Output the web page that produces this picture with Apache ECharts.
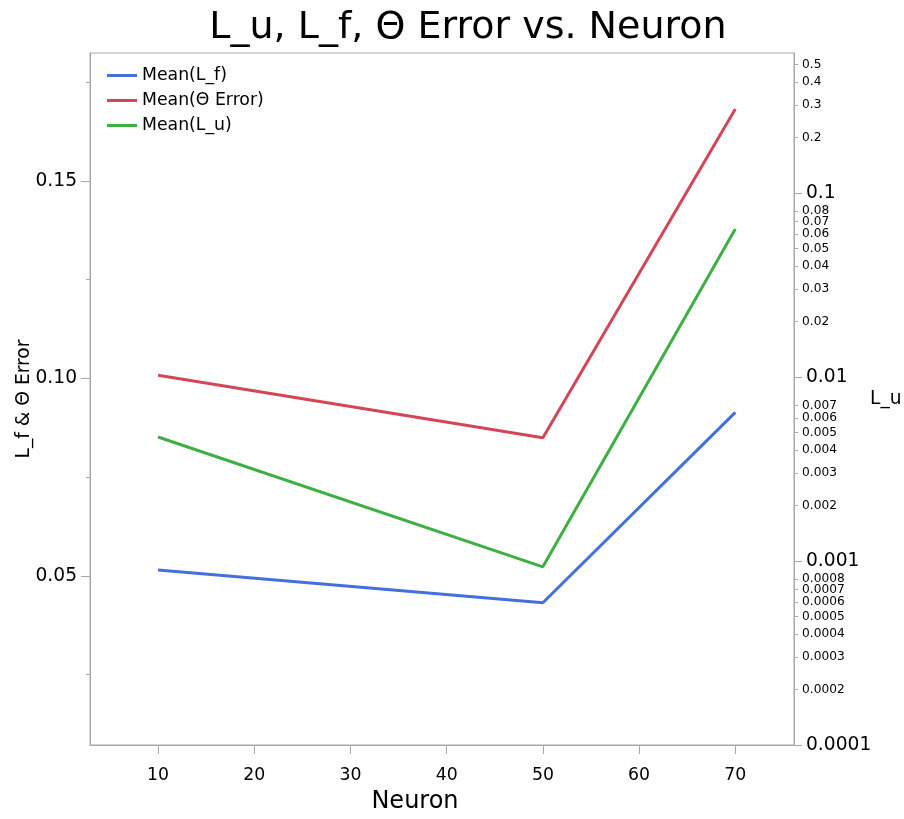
<!DOCTYPE html>
<html><head><meta charset="utf-8">
<script src="https://cdn.jsdelivr.net/npm/echarts@6/dist/echarts.min.js"></script>
<style>html,body{margin:0;padding:0;background:#fff}#c{width:904px;height:819px}</style>
</head><body><div id="c"></div>
<script>
const neurons = [10, 50, 70];
const meanLf = [0.0515, 0.0432, 0.0914];
const meanThetaErr = [0.1008, 0.0850, 0.1682];
const meanLu = [0.00472, 0.00093, 0.0637];
const xTicks = [10, 20, 30, 40, 50, 60, 70];
const leftMajor = [0.05, 0.10, 0.15];
const leftMinor = [0.025, 0.075, 0.125, 0.175];
const rightMajor = [0.0001, 0.001, 0.01, 0.1];
const rightMinor = [0.0002,0.0003,0.0004,0.0005,0.0006,0.0007,0.0008,
  0.002,0.003,0.004,0.005,0.006,0.007,0.02,0.03,0.04,0.05,0.06,0.07,0.08,0.2,0.3,0.4,0.5];

const FONT = 'DejaVu Sans';
const AX = '#a8a8a8';
const X_MIN = 2.93, X_MAX = 76.1, L_MIN = 0.0072, L_MAX = 0.1824, R_MIN = 0.0001, R_MAX = 0.577;
const pair = (xs, ys) => xs.map((x, i) => [x, ys[i]]);

const chart = echarts.init(document.getElementById('c'), null, {renderer: 'canvas'});
chart.setOption({
  backgroundColor: '#fff',
  animation: false,
  textStyle: {fontFamily: FONT},
  title: {text: 'L_u, L_f, Θ Error vs. Neuron', left: 463, textAlign: 'center', top: 4,
    textStyle: {fontFamily: FONT, fontSize: 38, fontWeight: 'normal', color: '#000'}},
  legend: {orient: 'vertical', left: 102, top: 62, icon: 'rect', itemWidth: 30, itemHeight: 3, itemGap: 8,
    textStyle: {fontFamily: FONT, fontSize: 17.3, color: '#000'},
    data: ['Mean(L_f)', 'Mean(Θ Error)', 'Mean(L_u)']},
  grid: {left: 90, right: 110, top: 53, bottom: 74, show: true, borderColor: AX, borderWidth: 1,
    containLabel: false, outerBoundsMode: 'none'},
  xAxis: {type: 'value', min: X_MIN, max: X_MAX, name: 'Neuron', nameLocation: 'middle', nameGap: 45,
    nameTextStyle: {fontFamily: FONT, fontSize: 24, color: '#000', padding: [0, 54, 0, 0]},
    axisLine: {lineStyle: {color: AX}}, splitLine: {show: false},
    axisTick: {customValues: xTicks, length: 9, lineStyle: {color: AX}},
    axisLabel: {customValues: xTicks, fontFamily: FONT, fontSize: 17.3, color: '#000', margin: 22}},
  yAxis: [
    {type: 'value', position: 'left', min: L_MIN, max: L_MAX, name: 'L_f & Θ Error', nameLocation: 'middle', nameGap: 56,
      nameMoveOverlap: false,
      nameTextStyle: {fontFamily: FONT, fontSize: 18.67, color: '#000'},
      axisLine: {show: true, lineStyle: {color: AX}}, splitLine: {show: false},
      axisTick: {customValues: leftMajor, length: 9, lineStyle: {color: AX}},
      axisLabel: {customValues: leftMajor, fontFamily: FONT, fontSize: 18.67, color: '#000', margin: 13,
        formatter: v => v.toFixed(2)}},
    {type: 'value', position: 'left', min: L_MIN, max: L_MAX,
      axisLine: {show: false}, splitLine: {show: false},
      axisTick: {customValues: leftMinor, length: 4, lineStyle: {color: AX}},
      axisLabel: {show: false}},
    {type: 'log', position: 'right', min: R_MIN, max: R_MAX, logBase: 10, name: 'L_u', nameLocation: 'middle', nameGap: 76, nameRotate: 0,
      nameMoveOverlap: false,
      nameTextStyle: {fontFamily: FONT, fontSize: 18.67, color: '#000'},
      axisLine: {show: true, lineStyle: {color: AX}}, splitLine: {show: false},
      axisTick: {customValues: rightMajor, length: 8, lineStyle: {color: AX}},
      axisLabel: {customValues: rightMajor, fontFamily: FONT, fontSize: 18.67, color: '#000', margin: 12,
        formatter: v => String(+v.toPrecision(1))}},
    {type: 'log', position: 'right', min: R_MIN, max: R_MAX, logBase: 10,
      axisLine: {show: false}, splitLine: {show: false},
      axisTick: {customValues: rightMinor, length: 4, lineStyle: {color: AX}},
      axisLabel: {customValues: rightMinor, fontFamily: FONT, fontSize: 12.2, color: '#000', margin: 8,
        formatter: v => String(+v.toPrecision(1))}}
  ],
  series: [
    {name: 'Mean(L_f)', type: 'line', yAxisIndex: 0, data: pair(neurons, meanLf), showSymbol: false,
      lineStyle: {width: 3, color: '#4470dd'}, itemStyle: {color: '#4470dd'}},
    {name: 'Mean(Θ Error)', type: 'line', yAxisIndex: 0, data: pair(neurons, meanThetaErr), showSymbol: false,
      lineStyle: {width: 3, color: '#d24655'}, itemStyle: {color: '#d24655'}},
    {name: 'Mean(L_u)', type: 'line', yAxisIndex: 2, data: pair(neurons, meanLu), showSymbol: false,
      lineStyle: {width: 3, color: '#3fae43'}, itemStyle: {color: '#3fae43'}}
  ]
});
</script></body></html>
